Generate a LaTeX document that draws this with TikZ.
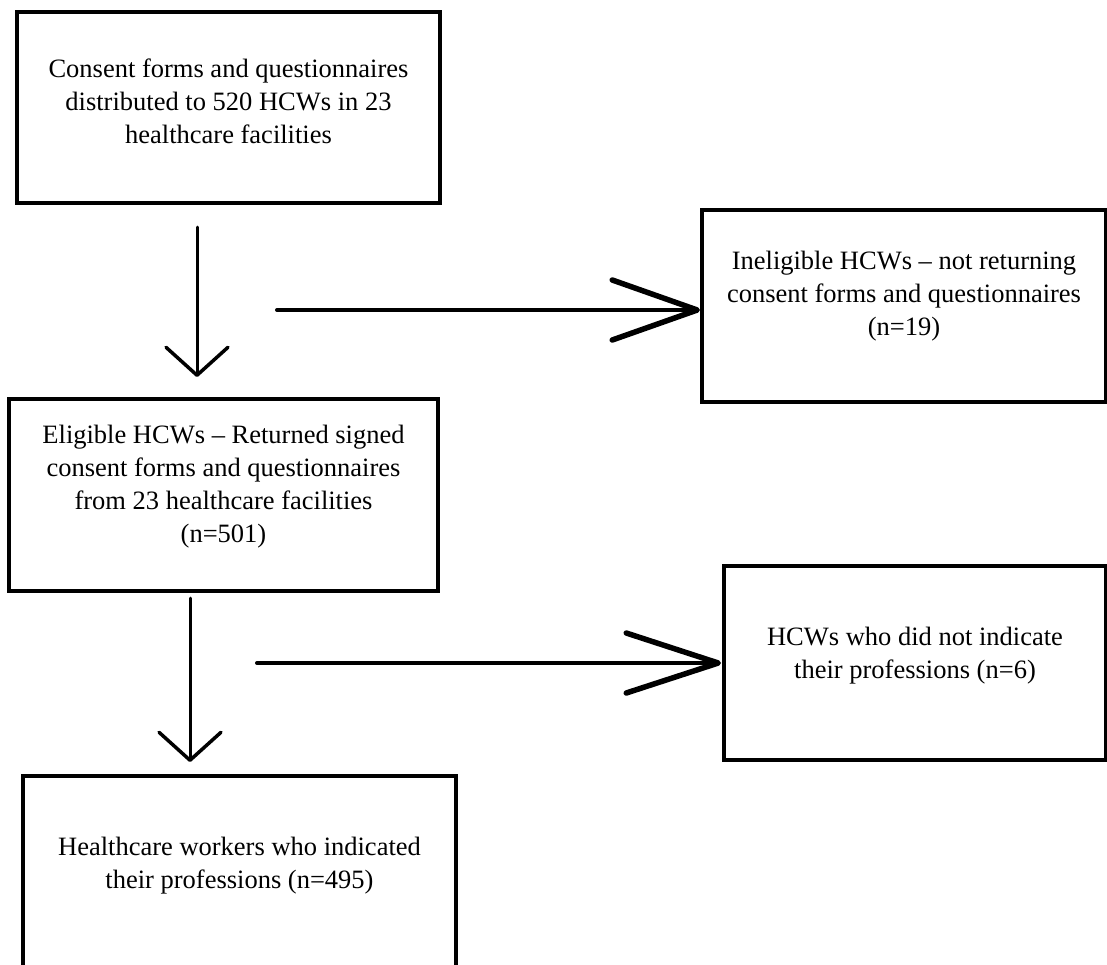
\documentclass[tikz,border=0pt]{standalone}
\usepackage{fontspec}
\setmainfont{Liberation Serif}
\usetikzlibrary{positioning, arrows.meta}
\tikzset{
flowbox/.style={draw, rectangle, line width=3.5pt, inner sep=0pt, outer sep=0pt}, % plain black frame
boxtext/.style={align=center, font=\fontsize{26.5pt}{33pt}\selectfont}, % text set inside a frame
downarrow/.style={line width=3pt, line cap=round, -{Straight Barb[length=28pt, width=62pt, line width=3.5pt, round]}},
sidearrow/.style={line width=4pt, line cap=round, -{Straight Barb[length=#1, width=60pt, line width=5.5pt, round]}},
}

\begin{document}
\begin{tikzpicture}[x=1pt, y=1pt]
        \useasboundingbox (0,0) rectangle (1107,-964);

        \node[flowbox, minimum width=423pt, minimum height=191pt,
              label={[boxtext, yshift=6pt]center:{Consent forms and questionnaires\\distributed to 520 HCWs in 23\\healthcare facilities}}]
              (consent) at (228.5,-107.5) {};
        \node[flowbox, minimum width=429pt, minimum height=192pt, below=196pt of consent, xshift=-5pt,
              label={[boxtext, yshift=8.5pt]center:{Eligible HCWs -- Returned signed\\consent forms and questionnaires\\from 23 healthcare facilities\\(n=501)}}]
              (eligible) {};
        \node[flowbox, minimum width=433pt, minimum height=192pt, below=185pt of eligible, xshift=16pt,
              label={[boxtext, yshift=6.5pt]center:{Healthcare workers who indicated\\their professions (n=495)}}]
              (workers) {};
        \node[flowbox, minimum width=404pt, minimum height=192pt, right=264pt of eligible.north east, anchor=south west, yshift=-3pt,
              label={[boxtext, yshift=10pt]center:{Ineligible HCWs -- not returning\\consent forms and questionnaires\\(n=19)}}]
              (ineligible) {};
        \node[flowbox, minimum width=382pt, minimum height=194pt, right=286pt of eligible.south east, anchor=north west, yshift=25pt,
              label={[boxtext, yshift=7.5pt]center:{HCWs who did not indicate\\their professions (n=6)}}]
              (noprof) {};

        % free ends of the arrows
        \coordinate (v1) at ([xshift=-31.5pt, yshift=-24pt]consent.south);
        \coordinate (v2) at ([xshift=-33.5pt, yshift=-7pt]eligible.south);
        \coordinate (h1) at (277,-310);
        \coordinate (h2) at (257,-663);

        \draw[downarrow, shorten >=22pt] (v1) -- (v1 |- eligible.north);
        \draw[downarrow, shorten >=14pt] (v2) -- (v2 |- workers.north);
        \draw[sidearrow=85pt, shorten >=2pt] (h1) -- (h1 -| ineligible.west);
        \draw[sidearrow=92pt, shorten >=3pt] (h2) -- (h2 -| noprof.west);
      \end{tikzpicture}
\end{document}
